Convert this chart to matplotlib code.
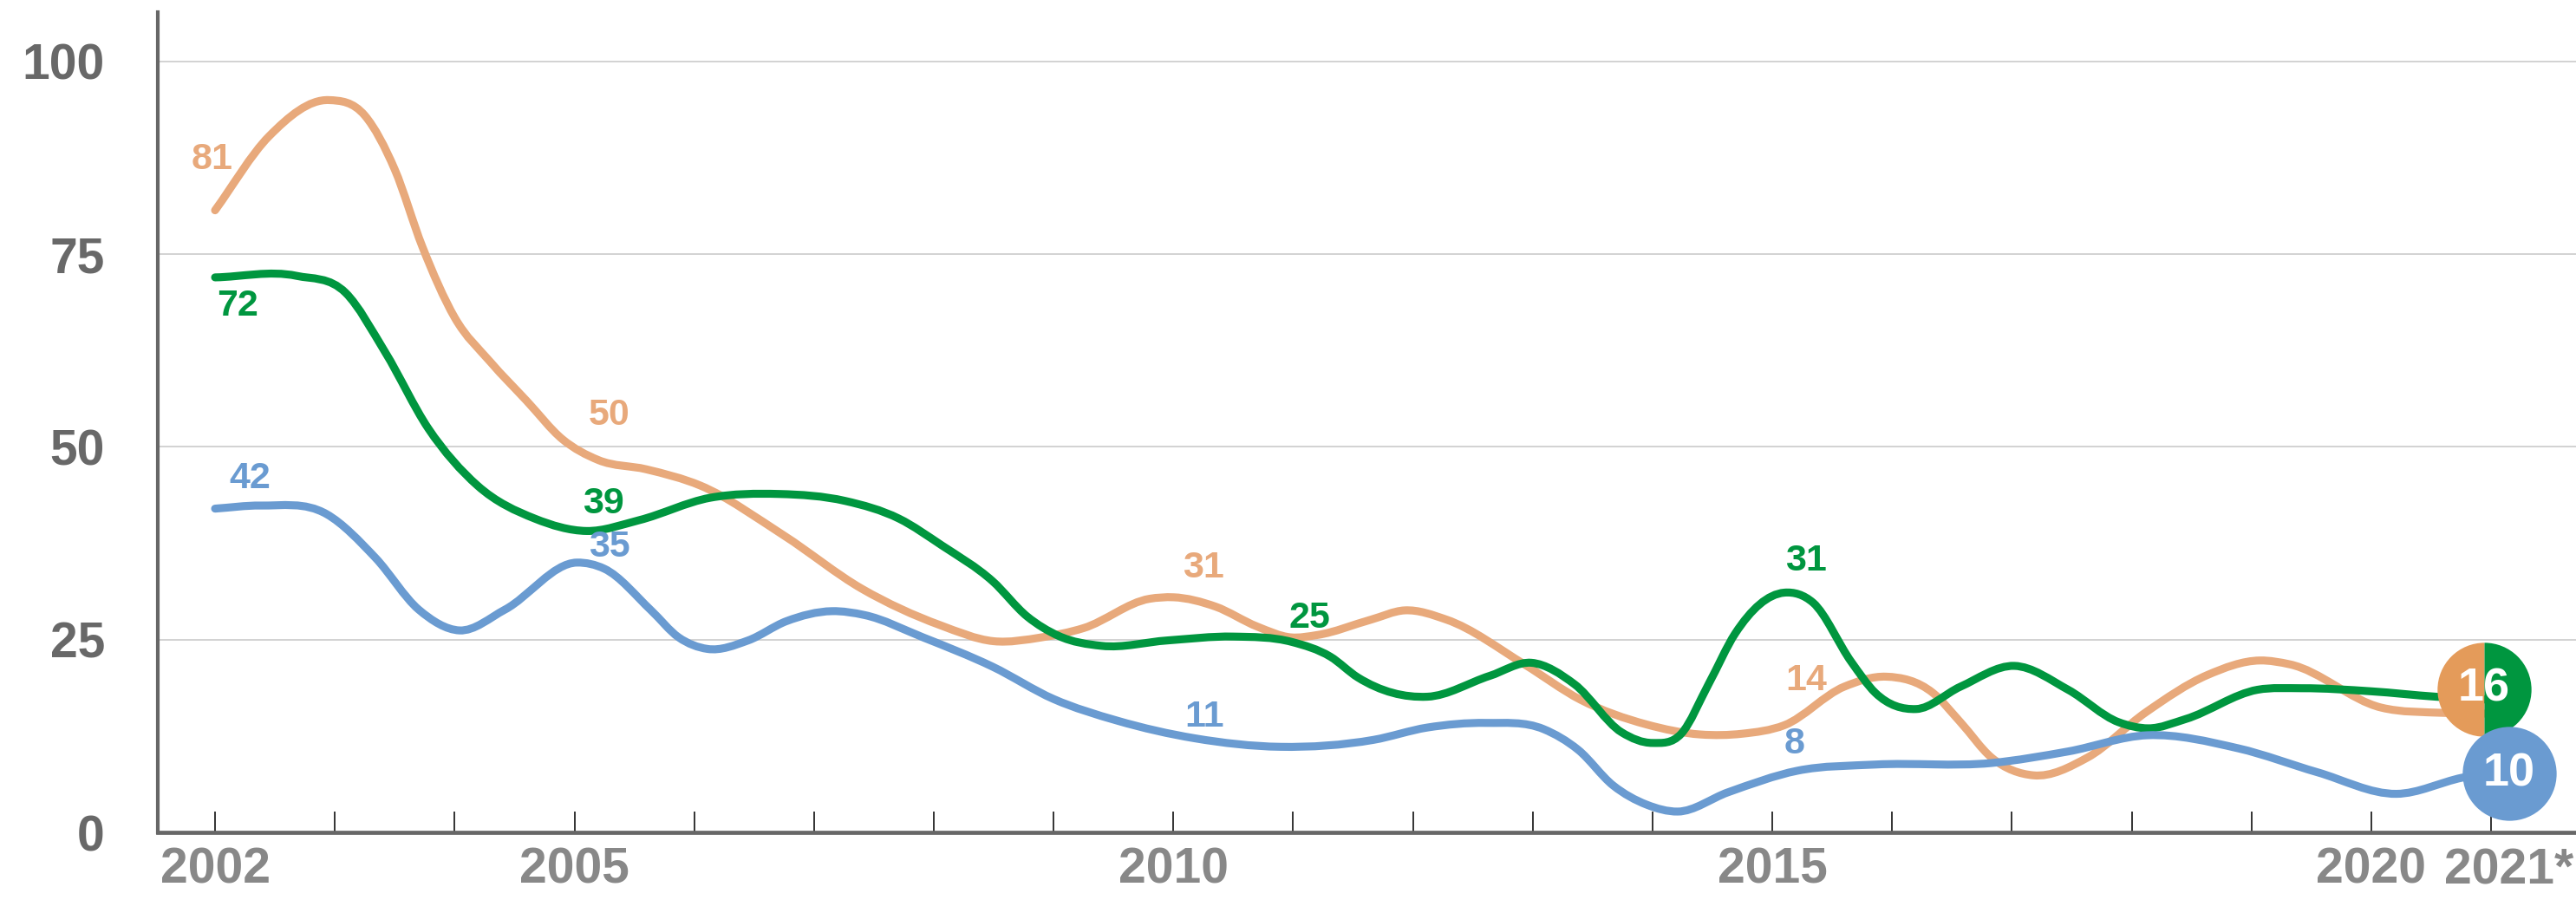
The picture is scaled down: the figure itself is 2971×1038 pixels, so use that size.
import matplotlib
matplotlib.use('Agg')
import matplotlib.pyplot as plt
from matplotlib.path import Path
from matplotlib.patches import PathPatch
from matplotlib.transforms import ScaledTranslation, blended_transform_factory
import numpy as np

# values (year, share)
orange_x = [2002.0, 2002.45, 2002.95, 2003.25, 2003.5, 2003.73, 2004.0, 2004.3, 2004.6, 2004.9,
            2005.2, 2005.6, 2006.05, 2006.75, 2007.4, 2008.05, 2008.5, 2008.9, 2009.25, 2009.8,
            2010.0, 2010.35, 2010.7, 2010.98, 2011.2, 2011.65, 2011.93, 2012.28, 2012.93, 2013.4,
            2013.95, 2014.4, 2014.75, 2015.1, 2015.6, 2015.95, 2016.34, 2016.57, 2016.83, 2017.18,
            2017.63, 2018.12, 2018.63, 2019.07, 2019.32, 2020.08, 2020.61, 2021.0]
orange_y = [80.7, 90.3, 95.0, 93.0, 86.0, 76.0, 66.8, 61.0, 56.0, 51.0,
            48.3, 47.1, 45.0, 38.5, 31.6, 26.9, 24.8, 25.3, 26.5, 30.3,
            30.5, 29.3, 26.7, 25.3, 25.6, 27.6, 28.8, 27.6, 21.8, 17.2,
            14.0, 12.7, 12.8, 13.9, 18.9, 20.2, 18.1, 14.3, 9.7, 7.4,
            9.7, 15.6, 20.4, 22.3, 21.8, 16.2, 15.5, 15.4]

green_x = [2002.0, 2002.68, 2003.09, 2003.42, 2003.78, 2004.19, 2004.67, 2005.1, 2005.54, 2006.13,
           2006.71, 2007.26, 2007.71, 2008.07, 2008.49, 2008.78, 2009.04, 2009.4, 2009.95, 2010.5,
           2010.99, 2011.31, 2011.54, 2012.12, 2012.64, 2012.99, 2013.35, 2013.74, 2014.0, 2014.24,
           2014.47, 2014.69, 2015.1, 2015.34, 2015.66, 2015.86, 2016.2, 2016.57, 2017.02, 2017.47,
           2017.89, 2018.14, 2018.45, 2019.05, 2019.42, 2020.0, 2020.54, 2021.0]
green_y = [72.0, 72.2, 70.0, 62.3, 52.4, 45.0, 40.7, 39.1, 40.5, 43.4,
           43.9, 43.0, 40.7, 37.2, 32.6, 28.0, 25.5, 24.2, 24.9, 25.4,
           24.7, 22.8, 20.1, 17.6, 20.3, 22.0, 19.2, 13.0, 11.6, 12.8,
           19.3, 25.8, 31.1, 29.8, 22.1, 18.1, 16.0, 18.9, 21.6, 18.5,
           14.3, 13.5, 14.7, 18.5, 18.7, 18.3, 17.6, 17.2]

blue_x = [2002.0, 2002.38, 2002.93, 2003.34, 2003.7, 2004.04, 2004.42, 2005.02, 2005.25, 2005.64,
          2005.87, 2006.11, 2006.45, 2006.77, 2007.15, 2007.42, 2007.91, 2008.49, 2009.0, 2009.53,
          2010.18, 2010.89, 2011.67, 2012.12, 2012.61, 2013.09, 2013.38, 2013.67, 2013.95, 2014.21,
          2014.63, 2015.21, 2015.86, 2016.83, 2017.47, 2018.13, 2018.89, 2019.55, 2020.21, 2020.76,
          2021.0]
blue_y = [42.0, 42.4, 41.3, 35.6, 28.9, 26.2, 28.9, 35.0, 34.2, 28.8,
          25.3, 23.8, 24.9, 27.4, 28.7, 28.2, 25.3, 21.5, 17.3, 14.5,
          12.2, 11.1, 12.0, 13.6, 14.2, 13.4, 10.7, 6.1, 3.6, 2.7,
          5.2, 8.0, 8.8, 9.0, 10.5, 12.6, 10.9, 7.8, 5.0, 7.1,
          7.8]

# callout values shown on the chart
orange_callouts = [(2002, 81), (2005, 50), (2010, 31), (2015, 14)]
green_callouts = [(2002, 72), (2005, 39), (2011, 25), (2015, 31)]
blue_callouts = [(2002, 42), (2005, 35), (2010, 11), (2015, 8)]
latest_year = 2021
latest_orange_green = 16
latest_blue = 10

years = list(range(2002, 2022))
year_labels = {2002: '2002', 2005: '2005', 2010: '2010', 2015: '2015', 2020: '2020'}

ORANGE = '#E8A97B'
ORANGE_DOT = '#E49B5A'
GREEN = '#00963F'
BLUE = '#6A9BD1'

plt.rcParams['font.family'] = ['Liberation Sans', 'DejaVu Sans']


def smooth_path(xs, ys):
    # cubic Hermite through the points, 3-point derivative (works with uneven spacing)
    xs = np.asarray(xs, float)
    ys = np.asarray(ys, float)
    h = np.diff(xs)
    d = np.diff(ys) / h
    m = np.empty(len(xs))
    m[1:-1] = (h[1:] * d[:-1] + h[:-1] * d[1:]) / (h[:-1] + h[1:])
    m[0] = d[0]
    m[-1] = d[-1]
    verts = [(xs[0], ys[0])]
    codes = [Path.MOVETO]
    for i in range(len(xs) - 1):
        verts += [(xs[i] + h[i] / 3, ys[i] + m[i] * h[i] / 3),
                  (xs[i + 1] - h[i] / 3, ys[i + 1] - m[i + 1] * h[i] / 3),
                  (xs[i + 1], ys[i + 1])]
        codes += [Path.CURVE4] * 3
    return Path(verts, codes)


fig = plt.figure(figsize=(29.71, 10.38), dpi=100)
ax = fig.add_axes([182 / 2971, 78 / 1038, 1 - 182 / 2971, (960 - 14) / 1038])
ax.set_xlim(2001.522, 2021.709)
ax.set_ylim(0, 106.41)

for s in ['top', 'right']:
    ax.spines[s].set_visible(False)
ax.spines['left'].set_color('#676767')
ax.spines['left'].set_linewidth(3.0)
ax.spines['bottom'].set_color('#676767')
ax.spines['bottom'].set_linewidth(3.4)

ax.set_yticks([0, 25, 50, 75, 100])
ax.tick_params(axis='y', length=0, pad=44, labelsize=41, labelcolor='#686868')
for lab in ax.get_yticklabels():
    lab.set_fontweight('bold')
for yv in [25, 50, 75, 100]:
    ax.axhline(yv, color='#cfcfcf', lw=1.3, zorder=0)

ax.set_xticks(years)
ax.set_xticklabels([year_labels.get(y, '') for y in years])
ax.tick_params(axis='x', direction='in', length=17, width=1.2, color='#111111',
               pad=12, labelsize=41, labelcolor='#888888')
for lab in ax.get_xticklabels():
    lab.set_fontweight('bold')
# last year label sits against the right edge
trans_x = blended_transform_factory(ax.transData, ax.transAxes)
ax.text(latest_year, 0, '2021*', transform=trans_x + ScaledTranslation(-0.54, -0.17, fig.dpi_scale_trans),
        ha='left', va='top', fontsize=41, fontweight='bold', color='#888888', clip_on=False)

series = [(orange_x, orange_y, ORANGE, orange_callouts, 1),
          (green_x, green_y, GREEN, green_callouts, 2),
          (blue_x, blue_y, BLUE, blue_callouts, 3)]
for xs, ys, col, _, z in series:
    ax.add_patch(PathPatch(smooth_path(xs, ys), fill=False, edgecolor=col, lw=6.6,
                           capstyle='round', joinstyle='round', zorder=z))

# label offsets in pixels (dx, dy) from the point
offsets = {ORANGE: [(-3, 56), (40, 36), (35, 29), (39, 51)],
           GREEN: [(26, -33), (33, 32), (19, 25), (39, 37)],
           BLUE: [(40, 35), (40, 18), (36, 35), (26, 31)]}
for xs, ys, col, callouts, z in series:
    for (yr, val), (dx, dy) in zip(callouts, offsets[col]):
        ax.annotate(str(val), (yr, val), xytext=(dx, dy), textcoords='offset pixels',
                    ha='center', va='center', fontsize=31, fontweight='bold', color=col, zorder=5)

# end-of-line bubbles
t1 = ax.transData + ScaledTranslation(-0.08, 0.23, fig.dpi_scale_trans)
ax.plot([latest_year], [latest_orange_green], marker='o', markersize=78, fillstyle='left',
        markerfacecolor=ORANGE_DOT, markerfacecoloralt=GREEN, markeredgewidth=0,
        transform=t1, clip_on=False, zorder=6)
ax.text(latest_year, latest_orange_green, str(latest_orange_green), transform=t1, ha='center', va='center',
        fontsize=39, fontweight='bold', color='white', zorder=7)
t2 = ax.transData + ScaledTranslation(0.21, -0.21, fig.dpi_scale_trans)
ax.plot([latest_year], [latest_blue], marker='o', markersize=78, color=BLUE, markeredgewidth=0,
        transform=t2, clip_on=False, zorder=6)
ax.text(latest_year, latest_blue, str(latest_blue), transform=t2, ha='center', va='center',
        fontsize=39, fontweight='bold', color='white', zorder=7)

fig.savefig('out.png', dpi=100)
